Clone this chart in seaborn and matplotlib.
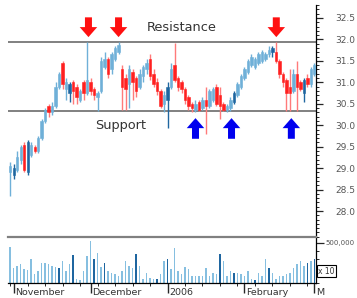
import numpy as np
import pandas as pd
import matplotlib
matplotlib.use("Agg")
import matplotlib.pyplot as plt
import matplotlib.transforms as mtransforms
from matplotlib.ticker import MultipleLocator, FixedLocator, NullFormatter
import seaborn as sns

# ---------------- data ----------------
dates = pd.bdate_range("2005-10-31", "2006-03-01")

opens = [28.9, 28.85, 28.95, 29.2, 29.55, 28.9, 29.3, 29.5, 29.4, 29.7,
         30.1, 30.45, 30.3, 30.45, 30.9, 31.45, 30.85, 30.75, 31.0, 30.9,
         30.6, 31.0, 30.75, 31.0, 30.85, 30.65, 30.8, 31.35, 31.55, 31.3,
         31.55, 31.7, 31.3, 31.1, 30.95, 31.25, 31.1, 30.9, 31.15, 31.3,
         31.55, 31.2, 31.0, 30.8, 30.5, 30.6, 30.9, 31.4, 31.1, 31.0,
         30.85, 30.65, 30.5, 30.35, 30.55, 30.4, 30.6, 30.45, 30.6, 30.9,
         30.7, 30.5, 30.35, 30.4, 30.55, 30.7, 30.9, 31.1, 31.25, 31.4,
         31.35, 31.45, 31.5, 31.55, 31.65, 31.7, 31.7, 31.5, 31.2, 31.05,
         30.9, 30.8, 31.2, 31.0, 30.75, 31.1, 30.95, 31.2]
closes = [29.05, 29.0, 29.25, 29.5, 28.95, 29.6, 29.55, 29.4, 29.7, 30.1,
          30.35, 30.3, 30.45, 30.9, 31.2, 30.95, 31.0, 30.95, 30.8, 30.65,
          30.8, 30.75, 31.05, 30.8, 30.7, 30.75, 31.5, 31.55, 31.2, 31.65,
          31.8, 31.88, 30.9, 30.85, 31.3, 31.0, 30.8, 31.2, 31.35, 31.45,
          31.15, 30.95, 30.8, 30.45, 30.7, 30.9, 31.3, 31.05, 30.9, 30.85,
          30.6, 30.45, 30.4, 30.5, 30.35, 30.6, 30.45, 30.8, 30.85, 30.5,
          30.45, 30.35, 30.45, 30.6, 30.75, 30.95, 31.15, 31.3, 31.5, 31.6,
          31.55, 31.65, 31.7, 31.65, 31.75, 31.8, 31.5, 31.2, 31.0, 30.75,
          30.75, 31.2, 30.9, 30.85, 31.05, 30.95, 31.3, 31.4]
highs = [29.15, 29.1, 29.4, 29.55, 29.6, 29.65, 29.6, 29.55, 29.75, 30.15,
         30.4, 30.5, 30.55, 31.0, 31.25, 31.5, 31.1, 31.0, 31.05, 30.95,
         30.85, 31.05, 31.93, 31.1, 30.9, 30.8, 31.6, 31.7, 31.6, 31.7,
         31.85, 31.93, 31.4, 31.2, 31.4, 31.3, 31.15, 31.3, 31.4, 31.55,
         31.65, 31.3, 31.1, 30.85, 30.8, 31.0, 31.45, 31.92, 31.15, 31.05,
         30.9, 30.7, 30.55, 30.6, 30.6, 30.65, 30.9, 30.85, 30.9, 30.95,
         30.9, 30.55, 30.5, 30.65, 30.8, 31.0, 31.2, 31.35, 31.55, 31.65,
         31.6, 31.7, 31.75, 31.7, 31.85, 31.85, 31.93, 31.55, 31.25, 31.1,
         31.3, 31.3, 31.5, 31.05, 31.1, 31.2, 31.35, 31.45]
lows = [28.35, 28.75, 28.9, 29.1, 28.9, 28.85, 29.25, 29.35, 29.35, 29.65,
        30.05, 30.2, 30.25, 30.4, 30.85, 30.85, 30.6, 30.55, 30.5, 30.5,
        30.55, 30.6, 30.7, 30.7, 30.6, 30.33, 30.75, 31.3, 31.1, 31.2,
        31.5, 31.65, 30.35, 30.35, 30.4, 30.6, 30.65, 30.85, 31.0, 31.2,
        31.05, 30.9, 30.7, 30.4, 30.3, 29.93, 30.85, 31.0, 30.8, 30.75,
        30.5, 30.35, 30.3, 30.3, 30.33, 30.35, 29.8, 30.4, 30.55, 30.45,
        30.15, 30.33, 30.3, 30.33, 30.5, 30.65, 30.85, 31.05, 31.2, 31.35,
        31.3, 31.4, 31.45, 31.5, 31.6, 31.6, 31.45, 31.1, 30.9, 30.33,
        30.33, 30.75, 30.33, 30.8, 30.55, 30.9, 30.9, 31.15]
dark_candles = [1, 5, 17, 45, 64, 75, 84]

volumes = [450000, 187500, 212500, 237500, 175000, 162500, 300000, 112500, 150000, 250000,
           250000, 237500, 212500, 200000, 187500, 275000, 150000, 237500, 350000, 50000,
           37500, 150000, 337500, 525000, 300000, 375000, 200000, 250000, 150000, 125000,
           112500, 87500, 150000, 275000, 212500, 187500, 362500, 212500, 50000, 125000,
           62500, 50000, 50000, 112500, 275000, 300000, 175000, 437500, 150000, 112500,
           200000, 175000, 87500, 87500, 87500, 87500, 187500, 87500, 125000, 112500,
           362500, 275000, 87500, 150000, 125000, 125000, 112500, 87500, 150000, 50000,
           37500, 125000, 87500, 300000, 187500, 125000, 50000, 87500, 87500, 112500,
           125000, 187500, 237500, 275000, 212500, 250000, 275000, 300000]
vol_dark = [0, 0, 0, 0, 0, 0, 0, 0, 0, 0,
            0, 0, 0, 0, 1, 0, 0, 0, 1, 0,
            0, 0, 0, 0, 1, 0, 0, 1, 0, 0,
            0, 0, 0, 0, 0, 0, 1, 0, 0, 0,
            0, 0, 1, 0, 0, 1, 0, 0, 0, 0,
            0, 0, 0, 0, 0, 0, 0, 0, 0, 0,
            1, 0, 0, 0, 1, 0, 0, 0, 0, 0,
            1, 0, 0, 0, 1, 0, 0, 0, 0, 0,
            0, 0, 0, 0, 0, 1, 0, 1]

resistance = 31.93
support = 30.33
red_arrow_idx = [22.4, 31, 76.1]
blue_arrow_idx = [53, 63.3, 80.4]
price_ticks = [28.0, 28.5, 29.0, 29.5, 30.0, 30.5, 31.0, 31.5, 32.0, 32.5]
month_labels = ["November", "December", "2006", "February", "M"]

# ---------------- figure ----------------
sns.set_style("white")
plt.rcParams["font.family"] = ["DejaVu Sans"]

W, H = 357, 298
fig = plt.figure(figsize=(W / 100, H / 100), dpi=100)
fig.patch.set_facecolor("white")

x0, x1 = 8, 316
axp = fig.add_axes([x0 / W, (H - 237) / H, (x1 - x0) / W, (237 - 5) / H])
axv = fig.add_axes([x0 / W, (H - 283) / H, (x1 - x0) / W, (283 - 237) / H])

idx = np.arange(len(dates))
xlim = (-0.6, len(dates) - 0.55)

# candles
light_blue = "#6fb0d8"
dark_blue = "#1f66a0"
red = "#ff2020"
light_red = "#ff7a7a"
for i in idx:
    o, c, h, l = opens[i], closes[i], highs[i], lows[i]
    up = c >= o
    if up:
        col = dark_blue if i in dark_candles else light_blue
        wick = col
    else:
        col = red
        wick = light_red
    axp.vlines(i, l, h, color=wick, lw=1.0, zorder=2)
    axp.bar(i, max(abs(c - o), 0.03), bottom=min(o, c), width=0.62,
            color=col, edgecolor=col, lw=0.4, zorder=3)

axp.axhline(resistance, color="#808080", lw=1.4, zorder=1)
axp.axhline(support, color="#808080", lw=1.4, zorder=1)

axp.text(49, 32.29, "Resistance", ha="center", va="center", fontsize=9.3, color="#333333")
axp.text(31.5, 29.99, "Support", ha="center", va="center", fontsize=9.3, color="#333333")

arrow_style = "simple,head_length=0.6,head_width=1.05,tail_width=0.42"
for xi in red_arrow_idx:
    axp.annotate("", xy=(xi, 31.99), xytext=(xi, 32.58),
                 arrowprops=dict(arrowstyle=arrow_style, mutation_scale=12,
                                 color="#ff1010", lw=0))
for xi in blue_arrow_idx:
    axp.annotate("", xy=(xi, 30.23), xytext=(xi, 29.62),
                 arrowprops=dict(arrowstyle=arrow_style, mutation_scale=12,
                                 color="#0000ee", lw=0))

axp.set_xlim(*xlim)
axp.set_ylim(27.395, 32.803)
for s in ["top", "left", "bottom"]:
    axp.spines[s].set_visible(False)
axp.spines["right"].set_color("black")
axp.spines["right"].set_linewidth(0.9)
axp.yaxis.tick_right()
axp.set_yticks(price_ticks)
axp.set_yticklabels([f"{t:.1f}" for t in price_ticks])
axp.yaxis.set_minor_locator(MultipleLocator(0.1))
axp.tick_params(axis="y", which="major", direction="out", length=5, width=0.9,
                labelsize=6.5, labelcolor="#555555", pad=9)
axp.tick_params(axis="y", which="minor", direction="out", length=2.5, width=0.7)
axp.set_xticks([])

# volume
vdf = pd.DataFrame({"i": idx, "vol": volumes,
                    "kind": ["dark" if d else "light" for d in vol_dark]})
sns.barplot(data=vdf, x="i", y="vol", hue="kind", native_scale=True, dodge=False,
            palette={"dark": "#1f66a0", "light": "#86bfe0"}, width=0.45,
            legend=False, ax=axv, linewidth=0, saturation=1)
axv.set_xlim(*xlim)
axv.set_ylim(0, 575000)
axv.set_xlabel("")
axv.set_ylabel("")
axv.spines["left"].set_visible(False)
axv.spines["top"].set_color("#808080")
axv.spines["top"].set_linewidth(1.6)
axv.spines["right"].set_color("black")
axv.spines["right"].set_linewidth(0.9)
axv.spines["bottom"].set_color("black")
axv.spines["bottom"].set_linewidth(0.9)
axv.yaxis.tick_right()
axv.set_yticks([500000])
axv.set_yticklabels(["500,000"])
axv.yaxis.set_minor_locator(MultipleLocator(100000))
axv.tick_params(axis="y", which="major", direction="out", length=6, width=0.9,
                labelsize=5.0, labelcolor="#555555", pad=1)
axv.tick_params(axis="y", which="minor", direction="out", length=2.5, width=0.7)

month_pos = [i for i in idx if i > 0 and dates[i].month != dates[i - 1].month]
week_pos = [i for i in idx if dates[i].weekday() == 0]
axv.xaxis.set_major_locator(FixedLocator(month_pos))
axv.xaxis.set_minor_locator(FixedLocator(week_pos))
axv.xaxis.set_major_formatter(NullFormatter())
axv.tick_params(axis="x", which="major", direction="out", length=7, width=1.0, bottom=True)
axv.tick_params(axis="x", which="minor", direction="out", length=2.5, width=0.7, bottom=True)
trans = mtransforms.blended_transform_factory(axv.transData, axv.transAxes)
for p, lab in zip(month_pos, month_labels):
    axv.text(p + 0.55, -0.2, lab, transform=trans, ha="left", va="center",
             fontsize=6.8, color="#333333")

fig.text(318 / W, 1 - 271 / H, "x 10", fontsize=5.5, color="#333333", ha="left", va="center",
         bbox=dict(boxstyle="square,pad=0.15", fc="white", ec="black", lw=0.8))

fig.savefig("out.png", dpi=100, facecolor="white")
